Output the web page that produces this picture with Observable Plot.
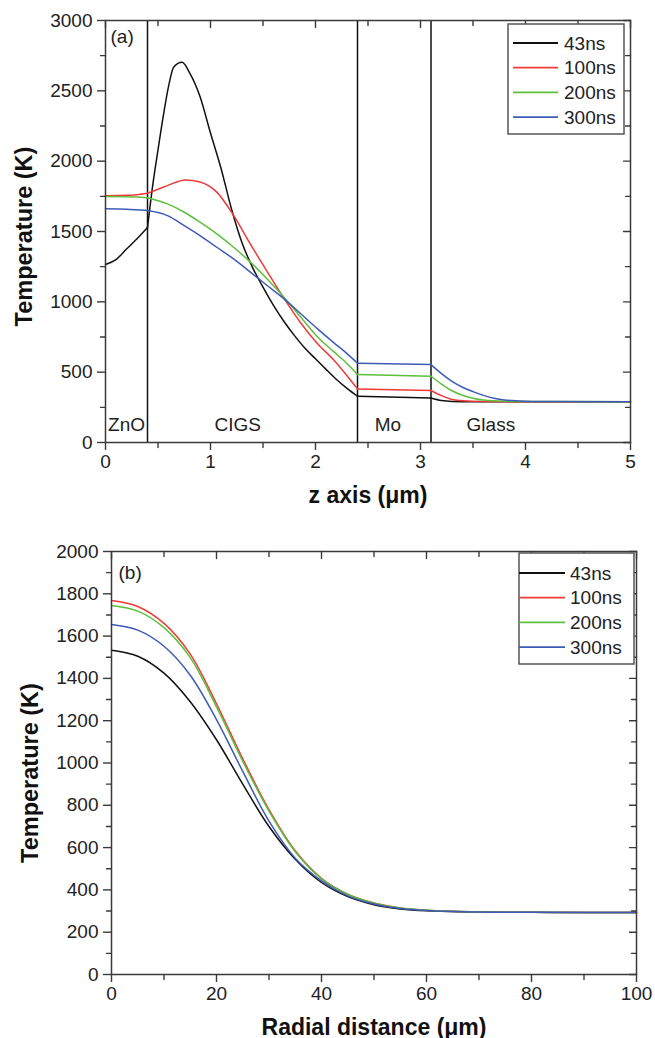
<!DOCTYPE html>
<html><head><meta charset="utf-8">
<script src="https://cdn.jsdelivr.net/npm/d3@7"></script>
<script src="https://cdn.jsdelivr.net/npm/@observablehq/plot@0.6"></script>
<style>
body{margin:0;background:#fff;}
#wrap{position:relative;width:655px;height:1038px;font-family:"Liberation Sans",Arial,sans-serif;}
#wrap > svg{position:absolute;left:0;}
</style></head><body><div id="wrap"></div>
<script>
// ---------- shared ----------
const seriesNames = ["43ns", "100ns", "200ns", "300ns"];
const seriesColors = ["#111111", "#f03a3a", "#5dbf3c", "#3d5ab6"];

// ---------- panel (a): temperature along z ----------
const layerNames = ["ZnO", "CIGS", "Mo", "Glass"];
const layerBounds = [0.4, 2.4, 3.1];
const layerLabelZ = [0.2, 1.26, 2.69, 3.67];

const zA43 = [0, 0.1, 0.2, 0.3, 0.4, 0.45, 0.5, 0.55, 0.6, 0.65, 0.73, 0.8, 0.9, 1.0, 1.1, 1.2, 1.3, 1.4, 1.5, 1.6, 1.7, 1.8, 1.9, 2.0, 2.1, 2.2, 2.3, 2.4, 3.1, 3.2, 3.3, 3.5, 4, 5];
const tA43 = [1266, 1300, 1375, 1448, 1528, 1830, 2080, 2320, 2530, 2670, 2703, 2630, 2460, 2200, 1950, 1660, 1420, 1245, 1105, 975, 860, 760, 670, 595, 520, 448, 385, 329, 316, 298, 292, 290, 290, 290];

const zA100 = [0, 0.2, 0.3, 0.4, 0.5, 0.6, 0.76, 0.9, 1.06, 1.22, 1.38, 1.54, 1.7, 1.86, 2.02, 2.17, 2.3, 2.4, 3.1, 3.2, 3.3, 3.4, 3.6, 4, 5];
const tA100 = [1755, 1757, 1762, 1772, 1800, 1830, 1867, 1852, 1780, 1614, 1410, 1215, 1025, 850, 702, 590, 475, 381, 370, 333, 306, 296, 291, 290, 290];

const zA200 = [0, 0.2, 0.4, 0.59, 0.75, 0.9, 1.06, 1.22, 1.38, 1.54, 1.7, 1.86, 2.02, 2.17, 2.3, 2.4, 3.1, 3.2, 3.3, 3.4, 3.5, 3.6, 3.8, 4.2, 5];
const tA200 = [1748, 1747, 1740, 1696, 1637, 1566, 1483, 1388, 1282, 1163, 1033, 891, 750, 648, 562, 483, 471, 415, 368, 336, 315, 302, 294, 291, 290];

const zA300 = [0, 0.2, 0.4, 0.59, 0.75, 0.9, 1.06, 1.22, 1.38, 1.54, 1.7, 1.86, 2.02, 2.17, 2.3, 2.4, 3.1, 3.2, 3.3, 3.4, 3.5, 3.6, 3.7, 3.8, 4.0, 4.3, 5];
const tA300 = [1661, 1658, 1649, 1613, 1542, 1471, 1388, 1305, 1211, 1116, 1021, 915, 808, 712, 632, 564, 554, 490, 435, 393, 362, 335, 314, 302, 294, 291, 290];

// ---------- panel (b): temperature along radius ----------
const rB = [0, 5, 10, 15, 20, 25, 30, 35, 40, 45, 50, 55, 60, 70, 80, 90, 100];
const tB43  = [1533, 1505, 1425, 1290, 1110, 900, 700, 545, 435, 368, 330, 310, 301, 295, 294, 293, 293];
const tB100 = [1768, 1740, 1660, 1515, 1280, 1020, 780, 585, 455, 380, 338, 315, 304, 296, 294, 293, 293];
const tB200 = [1745, 1718, 1640, 1498, 1265, 1008, 772, 580, 452, 378, 337, 314, 304, 296, 294, 293, 293];
const tB300 = [1655, 1628, 1552, 1415, 1205, 960, 725, 550, 443, 372, 333, 312, 303, 296, 294, 293, 293];

// tick values
const xMajorA = [0, 1, 2, 3, 4, 5];
const xMinorA = [0.5, 1.5, 2.5, 3.5, 4.5];
const yMajorA = [0, 500, 1000, 1500, 2000, 2500, 3000];
const yMinorA = [250, 750, 1250, 1750, 2250, 2750];
const xMajorB = [0, 20, 40, 60, 80, 100];
const xMinorB = [10, 30, 50, 70, 90];
const yMajorB = [0, 200, 400, 600, 800, 1000, 1200, 1400, 1600, 1800, 2000];
const yMinorB = [100, 300, 500, 700, 900, 1100, 1300, 1500, 1700, 1900];

// ---------- build tables ----------
const edgesA = [0, ...layerBounds, 5];
function tableSeg(xs, ys, name) {
  const out = [];
  xs.forEach((x, i) => {
    for (let s = 0; s < edgesA.length - 1; s++) {
      if (x >= edgesA[s] && x <= edgesA[s + 1]) out.push({x, y: ys[i], series: name, seg: name + "-" + s});
    }
  });
  return out;
}
function table(xs, ys, name) { return xs.map((x, i) => ({x, y: ys[i], series: name, seg: name})); }
const dataA = [
  ...tableSeg(zA43, tA43, "43ns"), ...tableSeg(zA100, tA100, "100ns"),
  ...tableSeg(zA200, tA200, "200ns"), ...tableSeg(zA300, tA300, "300ns")
];
const dataB = [
  ...table(rB, tB43, "43ns"), ...table(rB, tB100, "100ns"),
  ...table(rB, tB200, "200ns"), ...table(rB, tB300, "300ns")
];

const AX = "#3a3a3a";
const FONT = "Liberation Sans, Arial, sans-serif";
const tickShape = {draw(context, l) { context.moveTo(0, 0); context.lineTo(0, -l); }};
const fmt = d => String(d);

function vTicks(values, channel, frameAnchor, rotate, length) {
  return Plot.vector(values, {[channel]: d => d, frameAnchor, rotate, length, anchor: "start",
    shape: tickShape, stroke: AX, strokeWidth: 1.4});
}

function axes(xMajor, xMinor, yMajor, yMinor) {
  return [
    Plot.axisX({ticks: xMajor, tickSize: 8, tickPadding: 4, fontSize: 19, label: null, tickFormat: fmt, color: AX, fill: "#222", strokeWidth: 1.4}),
    Plot.axisY({ticks: yMajor, tickSize: 8, tickPadding: 5, fontSize: 19, label: null, tickFormat: fmt, color: AX, fill: "#222", strokeWidth: 1.4}),
    vTicks(xMinor, "x", "bottom", 180, 5),
    vTicks(xMajor, "x", "top", 180, 7),
    vTicks(xMinor, "x", "top", 180, 5),
    vTicks(yMinor, "y", "left", -90, 5),
    vTicks(yMajor, "y", "right", -90, 7),
    vTicks(yMinor, "y", "right", -90, 5)
  ];
}

function panel(o) {
  return Plot.plot({
    width: 655, height: o.height,
    marginLeft: o.ml, marginRight: o.mr, marginTop: o.mt, marginBottom: o.mb,
    style: {fontFamily: FONT, background: "transparent", overflow: "visible"},
    x: {domain: o.xDomain}, y: {domain: o.yDomain},
    color: {domain: seriesNames, range: seriesColors},
    marks: [
      ...(o.extras || []),
      Plot.line(o.data, {x: "x", y: "y", z: "seg", stroke: "series", curve: o.curve, strokeWidth: 1.5}),
      Plot.frame({stroke: AX, strokeWidth: 1.5}),
      ...axes(o.xMajor, o.xMinor, o.yMajor, o.yMinor),
      Plot.text([o.yTitle], {frameAnchor: "left", rotate: -90, dx: -81, dy: o.yTitleDy, textAnchor: "middle", lineAnchor: "middle", fontSize: 23.5, fontWeight: "bold", fill: "#111"}),
      Plot.text([o.xTitle], {frameAnchor: "bottom", dy: 53, textAnchor: "middle", lineAnchor: "middle", fontSize: 23, fontWeight: "bold", fill: "#111"}),
      Plot.text([o.tag], {frameAnchor: "top-left", dx: o.tagDx, dy: o.tagDy, textAnchor: "start", lineAnchor: "middle", fontSize: 19, fill: "#222"})
    ]
  });
}

const wrap = document.getElementById("wrap");

const svgA = panel({
  data: dataA, height: 520, ml: 105, mr: 25, mt: 20, mb: 78, curve: "monotone-x",
  xDomain: [0, 5], yDomain: [0, 3000],
  xMajor: xMajorA, xMinor: xMinorA, yMajor: yMajorA, yMinor: yMinorA,
  yTitle: "Temperature (K)", yTitleDy: 5, xTitle: "z axis (μm)", tag: "(a)", tagDx: 5, tagDy: 16,
  extras: [
    Plot.ruleX(layerBounds, {stroke: "#111", strokeWidth: 1.5}),
    Plot.text(layerNames, {x: (d, i) => layerLabelZ[i], frameAnchor: "bottom", dy: -18, lineAnchor: "middle", fontSize: 19, fill: "#222"})
  ]
});
svgA.style.top = "0px";
wrap.appendChild(svgA);

const svgB = panel({
  data: dataB, height: 518, ml: 111, mr: 19, mt: 31, mb: 64, curve: "catmull-rom",
  xDomain: [0, 100], yDomain: [0, 2000],
  xMajor: xMajorB, xMinor: xMinorB, yMajor: yMajorB, yMinor: yMinorB,
  yTitle: "Temperature (K)", yTitleDy: 10, xTitle: "Radial distance (μm)", tag: "(b)", tagDx: 7, tagDy: 21
});
svgB.style.top = "520px";
wrap.appendChild(svgB);

// ---------- legends ----------
function legend(left, top, w, h, lineX0, lineX1, textX, rowY0) {
  const svg = d3.select(wrap).append("svg")
    .attr("width", w + 2).attr("height", h + 2)
    .style("left", left - 1 + "px").style("top", top - 1 + "px");
  svg.append("rect").attr("x", 1).attr("y", 1).attr("width", w).attr("height", h)
    .attr("fill", "#fff").attr("stroke", "#555").attr("stroke-width", 1.5);
  seriesNames.forEach((name, i) => {
    const y = 1 + rowY0 + i * 24.7;
    svg.append("line").attr("x1", 1 + lineX0).attr("x2", 1 + lineX1).attr("y1", y).attr("y2", y)
      .attr("stroke", seriesColors[i]).attr("stroke-width", 1.8);
    svg.append("text").attr("x", 1 + textX).attr("y", y).attr("dy", "0.35em")
      .attr("font-family", FONT).attr("font-size", 19).attr("fill", "#222").text(name);
  });
}
legend(508, 24, 116, 110, 5, 50, 56, 19);
legend(519, 553, 115, 111, 0, 46, 51, 20);
</script>
</body></html>
